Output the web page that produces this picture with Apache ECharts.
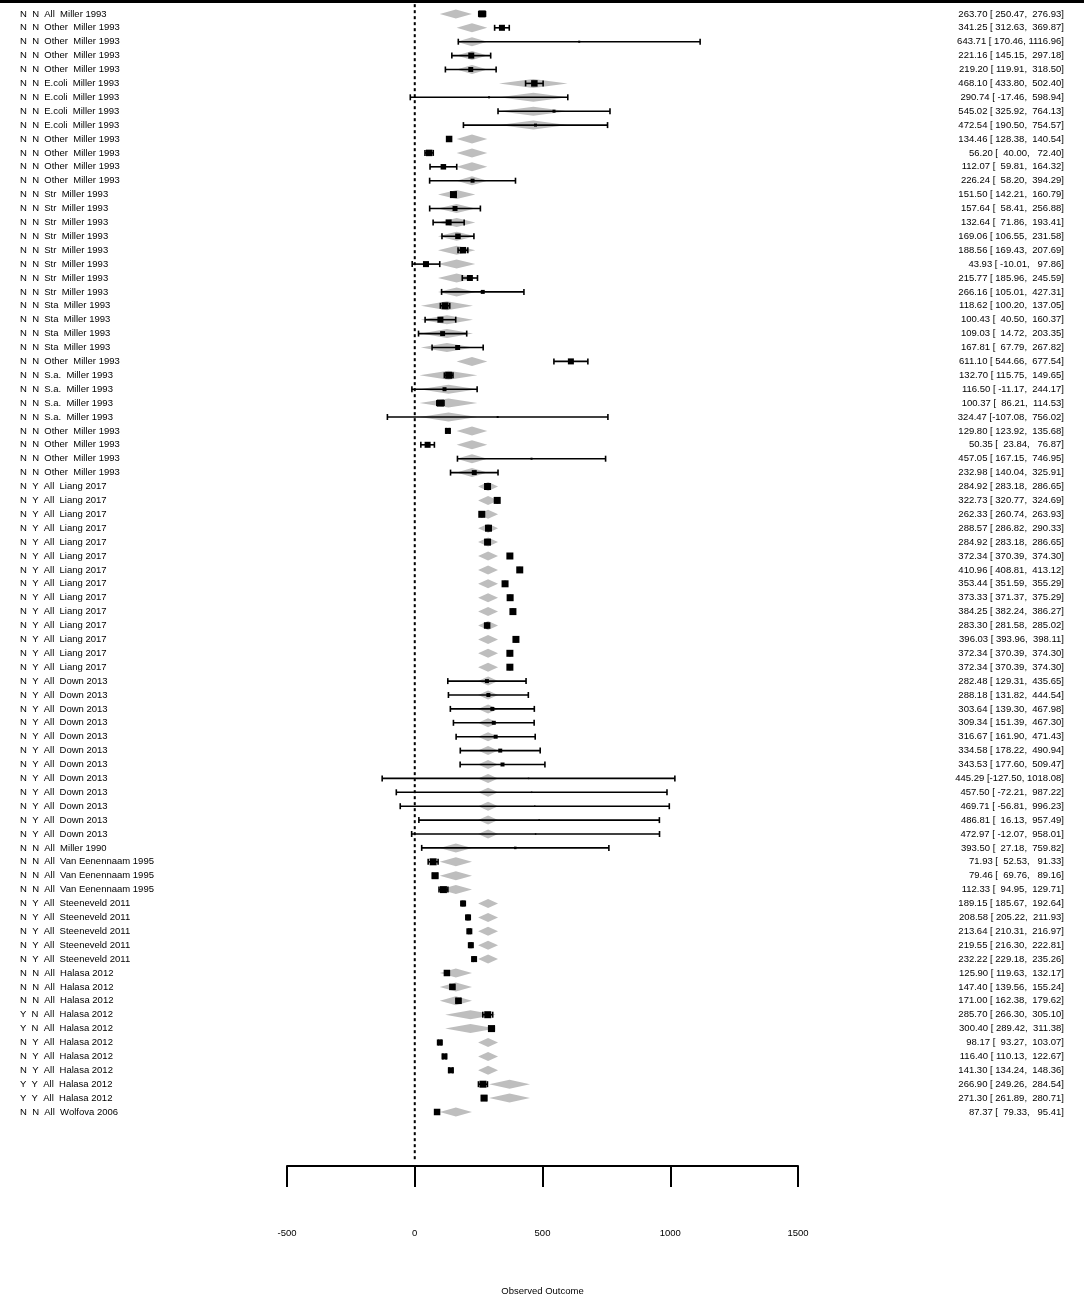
<!DOCTYPE html>
<html lang="en">

<head>
  <meta charset="UTF-8">
  <title>forest plot</title>
  <script src="https://cdn.jsdelivr.net/npm/echarts@6/dist/echarts.min.js"></script>
  <style>
    * {
      padding: 0;
      margin: 0;
    }

    #main {
      width: 1084px;
      height: 1295px;
      background: #fff;
    }
  </style>
</head>

<body>
  <div id="main"></div>
  <script>
    // moderator columns + study
    var colA = ['N','N','N','N','N','N','N','N','N','N','N','N','N','N','N','N','N','N','N','N','N','N','N','N','N','N','N','N','N','N','N','N','N','N',
      'N','N','N','N','N','N','N','N','N','N','N','N','N','N',
      'N','N','N','N','N','N','N','N','N','N','N','N',
      'N','N','N','N','N','N','N','N','N','N','N','N','Y','Y','N','N','N','Y','Y','N'];
    var colB = ['N','N','N','N','N','N','N','N','N','N','N','N','N','N','N','N','N','N','N','N','N','N','N','N','N','N','N','N','N','N','N','N','N','N',
      'Y','Y','Y','Y','Y','Y','Y','Y','Y','Y','Y','Y','Y','Y',
      'Y','Y','Y','Y','Y','Y','Y','Y','Y','Y','Y','Y',
      'N','N','N','N','Y','Y','Y','Y','Y','N','N','N','N','N','Y','Y','Y','Y','Y','N'];
    var pathogen = ['All','Other','Other','Other','Other','E.coli','E.coli','E.coli','E.coli','Other','Other','Other','Other',
      'Str','Str','Str','Str','Str','Str','Str','Str','Sta','Sta','Sta','Sta','Other','S.a.','S.a.','S.a.','S.a.',
      'Other','Other','Other','Other'];
    var study = [];
    for (var i = 0; i < 34; i++) study.push('Miller 1993');
    for (var i = 0; i < 14; i++) study.push('Liang 2017');
    for (var i = 0; i < 12; i++) study.push('Down 2013');
    study.push('Miller 1990');
    study.push('Van Eenennaam 1995', 'Van Eenennaam 1995', 'Van Eenennaam 1995');
    for (var i = 0; i < 5; i++) study.push('Steeneveld 2011');
    for (var i = 0; i < 10; i++) study.push('Halasa 2012');
    study.push('Wolfova 2006');
    while (pathogen.length < study.length) pathogen.push('All');

    var estimate = [263.70, 341.25, 643.71, 221.16, 219.20, 468.10, 290.74, 545.02, 472.54, 134.46,
      56.20, 112.07, 226.24, 151.50, 157.64, 132.64, 169.06, 188.56, 43.93, 215.77,
      266.16, 118.62, 100.43, 109.03, 167.81, 611.10, 132.70, 116.50, 100.37, 324.47,
      129.80, 50.35, 457.05, 232.98, 284.92, 322.73, 262.33, 288.57, 284.92, 372.34,
      410.96, 353.44, 373.33, 384.25, 283.30, 396.03, 372.34, 372.34, 282.48, 288.18,
      303.64, 309.34, 316.67, 334.58, 343.53, 445.29, 457.50, 469.71, 486.81, 472.97,
      393.50, 71.93, 79.46, 112.33, 189.15, 208.58, 213.64, 219.55, 232.22, 125.90,
      147.40, 171.00, 285.70, 300.40, 98.17, 116.40, 141.30, 266.90, 271.30, 87.37];
    var ciLower = [250.47, 312.63, 170.46, 145.15, 119.91, 433.80, -17.46, 325.92, 190.50, 128.38,
      40.00, 59.81, 58.20, 142.21, 58.41, 71.86, 106.55, 169.43, -10.01, 185.96,
      105.01, 100.20, 40.50, 14.72, 67.79, 544.66, 115.75, -11.17, 86.21, -107.08,
      123.92, 23.84, 167.15, 140.04, 283.18, 320.77, 260.74, 286.82, 283.18, 370.39,
      408.81, 351.59, 371.37, 382.24, 281.58, 393.96, 370.39, 370.39, 129.31, 131.82,
      139.30, 151.39, 161.90, 178.22, 177.60, -127.50, -72.21, -56.81, 16.13, -12.07,
      27.18, 52.53, 69.76, 94.95, 185.67, 205.22, 210.31, 216.30, 229.18, 119.63,
      139.56, 162.38, 266.30, 289.42, 93.27, 110.13, 134.24, 249.26, 261.89, 79.33];
    var ciUpper = [276.93, 369.87, 1116.96, 297.18, 318.50, 502.40, 598.94, 764.13, 754.57, 140.54,
      72.40, 164.32, 394.29, 160.79, 256.88, 193.41, 231.58, 207.69, 97.86, 245.59,
      427.31, 137.05, 160.37, 203.35, 267.82, 677.54, 149.65, 244.17, 114.53, 756.02,
      135.68, 76.87, 746.95, 325.91, 286.65, 324.69, 263.93, 290.33, 286.65, 374.30,
      413.12, 355.29, 375.29, 386.27, 285.02, 398.11, 374.30, 374.30, 435.65, 444.54,
      467.98, 467.30, 471.43, 490.94, 509.47, 1018.08, 987.22, 996.23, 957.49, 958.01,
      759.82, 91.33, 89.16, 129.71, 192.64, 211.93, 216.97, 222.81, 235.26, 132.17,
      155.24, 179.62, 305.10, 311.38, 103.07, 122.67, 148.36, 284.54, 280.71, 95.41];
    // relative weight (box size)
    var weight = [1.0, 0.86, 0.29, 0.86, 0.71, 0.93, 0.29, 0.43, 0.43, 0.93,
      0.93, 0.79, 0.57, 1.0, 0.71, 0.86, 0.79, 0.93, 0.86, 0.86,
      0.57, 1.0, 0.86, 0.71, 0.71, 0.86, 1.0, 0.57, 1.0, 0.29,
      0.86, 0.86, 0.29, 0.71, 1.0, 1.0, 1.0, 1.0, 1.0, 1.0,
      1.0, 1.0, 1.0, 1.0, 0.93, 1.0, 1.0, 1.0, 0.57, 0.57,
      0.57, 0.57, 0.57, 0.57, 0.57, 0.21, 0.21, 0.21, 0.21, 0.21,
      0.36, 1.0, 1.0, 1.0, 0.86, 0.86, 0.86, 0.86, 0.86, 0.93,
      0.93, 0.93, 1.0, 1.0, 0.86, 0.86, 0.86, 1.0, 1.0, 0.93];

    // fitted values (grey polygons) per moderator group: [fit, lower, upper]
    var predGroups = {
      'N N All': [161, 98, 224],
      'N N Other': [224, 164, 284],
      'N N E.coli': [464, 330, 598],
      'N N Str': [164, 91, 237],
      'N N Sta': [126, 24, 228],
      'N N S.a.': [132, 19, 245],
      'N Y All': [287, 248, 326],
      'Y N All': [218, 119, 317],
      'Y Y All': [371, 291, 451]
    };

    var xTicks = [-500, 0, 500, 1000, 1500];

    var FONT = '"Liberation Sans", Arial, sans-serif';
    var FS = 9.5;
    var ROW_H = 13.9;
    var AXIS_Y = 1166;
    var nRows = estimate.length;

    function pad(v, n) {
      var s = v.toFixed(2);
      while (s.length < n) s = ' ' + s;
      return s;
    }

    var rows = [];
    for (var i = 0; i < nRows; i++) {
      var key = colA[i] + ' ' + colB[i] + ' ' + pathogen[i];
      var p = predGroups[key];
      rows.push({
        label: colA[i] + '  ' + colB[i] + '  ' + pathogen[i] + '  ' + study[i],
        right: pad(estimate[i], 6) + ' [' + pad(ciLower[i], 7) + ', ' + pad(ciUpper[i], 7) + ']',
        value: [estimate[i], i + 1, ciLower[i], ciUpper[i], weight[i], p[0], p[1], p[2]]
      });
    }
    var seriesData = rows.map(function (r) { return r.value; });

    var chartDom = document.getElementById('main');
    var myChart = echarts.init(chartDom);
    var option;

    option = {
      animation: false,
      backgroundColor: '#fff',
      grid: {
        left: 287,
        right: 1084 - 798,
        top: 0,
        height: AXIS_Y,
        containLabel: false,
        outerBoundsMode: 'none'
      },
      xAxis: {
        type: 'value',
        min: xTicks[0],
        max: xTicks[xTicks.length - 1],
        interval: 500,
        axisLine: { show: true, onZero: false, lineStyle: { color: '#000', width: 2 } },
        axisTick: { show: true, length: 21, lineStyle: { color: '#000', width: 2 } },
        axisLabel: {
          margin: 62, fontSize: FS, color: '#000', fontFamily: FONT,
          showMinLabel: true, showMaxLabel: true,
          formatter: function (v) { return String(v); }
        },
        splitLine: { show: false },
        name: 'Observed Outcome',
        nameLocation: 'middle',
        nameGap: 120,
        nameTextStyle: { fontSize: FS, color: '#000', fontFamily: FONT }
      },
      yAxis: {
        type: 'value',
        inverse: true,
        min: 0,
        max: AXIS_Y / ROW_H,
        show: false
      },
      graphic: [{
        type: 'line',
        shape: { x1: 0, y1: 1.5, x2: 1084, y2: 1.5 },
        style: { stroke: '#000', lineWidth: 3 }
      }],
      series: [
        {
          // reference line at 0
          type: 'custom',
          data: [[0, 0]],
          silent: true,
          renderItem: function (params, api) {
            var a = api.coord([0, 0.3]);
            var b = api.coord([0, AXIS_Y / ROW_H - 0.4]);
            return {
              type: 'line',
              shape: { x1: a[0], y1: a[1], x2: b[0], y2: b[1] },
              style: { stroke: '#000', lineWidth: 2, lineDash: [3, 3] }
            };
          }
        },
        {
          // fitted values
          type: 'custom',
          data: seriesData,
          silent: true,
          renderItem: function (params, api) {
            var y = api.value(1);
            var c = api.coord([api.value(5), y]);
            var l = api.coord([api.value(6), y]);
            var r = api.coord([api.value(7), y]);
            var h = 4.5;
            return {
              type: 'polygon',
              shape: { points: [[l[0], l[1]], [c[0], c[1] - h], [r[0], r[1]], [c[0], c[1] + h]] },
              style: { fill: '#bebebe' }
            };
          }
        },
        {
          // CI bars
          type: 'custom',
          data: seriesData,
          silent: true,
          renderItem: function (params, api) {
            var y = api.value(1);
            var l = api.coord([api.value(2), y]);
            var r = api.coord([api.value(3), y]);
            var ch = 3;
            return {
              type: 'group',
              children: [
                { type: 'line', shape: { x1: l[0], y1: l[1], x2: r[0], y2: r[1] }, style: { stroke: '#000', lineWidth: 1.6 } },
                { type: 'line', shape: { x1: l[0], y1: l[1] - ch, x2: l[0], y2: l[1] + ch }, style: { stroke: '#000', lineWidth: 1.6 } },
                { type: 'line', shape: { x1: r[0], y1: r[1] - ch, x2: r[0], y2: r[1] + ch }, style: { stroke: '#000', lineWidth: 1.6 } }
              ]
            };
          }
        },
        {
          // point estimates
          type: 'custom',
          data: seriesData,
          silent: true,
          renderItem: function (params, api) {
            var p = api.coord([api.value(0), api.value(1)]);
            var s = 7 * api.value(4);
            return {
              type: 'rect',
              shape: { x: p[0] - s / 2, y: p[1] - s / 2, width: s, height: s },
              style: { fill: '#000' }
            };
          }
        },
        {
          // left labels
          type: 'custom',
          data: seriesData,
          silent: true,
          renderItem: function (params, api) {
            var p = api.coord([0, api.value(1)]);
            return {
              type: 'text',
              x: 20,
              y: p[1],
              style: {
                text: rows[params.dataIndex].label,
                fill: '#000',
                fontSize: FS,
                fontFamily: FONT,
                align: 'left',
                verticalAlign: 'middle'
              }
            };
          }
        },
        {
          // right estimates text
          type: 'custom',
          data: seriesData,
          silent: true,
          renderItem: function (params, api) {
            var p = api.coord([0, api.value(1)]);
            return {
              type: 'text',
              x: 1064,
              y: p[1],
              style: {
                text: rows[params.dataIndex].right,
                fill: '#000',
                fontSize: FS,
                fontFamily: FONT,
                align: 'right',
                verticalAlign: 'middle'
              }
            };
          }
        }
      ]
    };

    option && myChart.setOption(option);
  </script>
</body>

</html>
